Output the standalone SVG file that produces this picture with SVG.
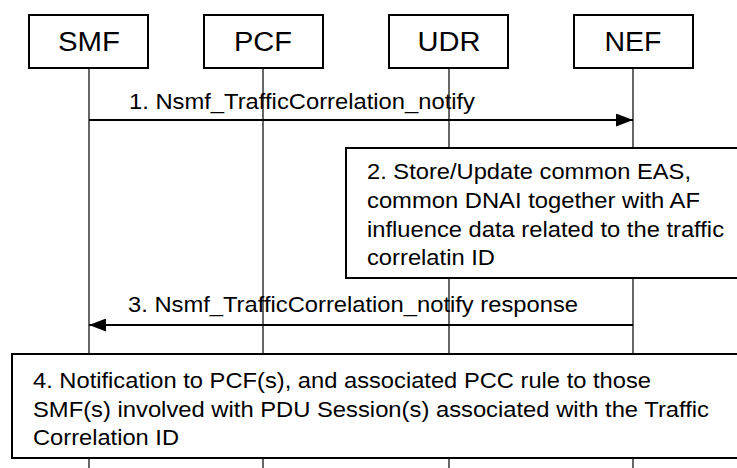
<svg xmlns="http://www.w3.org/2000/svg" width="737" height="468" viewBox="0 0 737 468">
<style>
.box{fill:#fff;stroke:#000;stroke-width:2}
.life{stroke:#000;stroke-width:1.2;fill:none}
.msg{stroke:#000;stroke-width:2;fill:none}
.t{font-family:"Liberation Sans",Arial,sans-serif;fill:#000}
.nl{font-size:27px;text-anchor:middle}
.ml{font-size:22px}
</style>
<defs>
<marker id="ah" viewBox="0 0 17 13" refX="17" refY="6.5" markerWidth="17" markerHeight="13" markerUnits="userSpaceOnUse" orient="auto">
<path d="M0,0 L17,6.5 L0,13 Z" fill="#000"/>
</marker>
</defs>
<g id="lifelines">
<line class="life" x1="89" y1="68" x2="89" y2="468"/>
<line class="life" x1="263" y1="68" x2="263" y2="468"/>
<line class="life" x1="449" y1="68" x2="449" y2="468"/>
<line class="life" x1="633" y1="68" x2="633" y2="468"/>
</g>
<g id="SMF"><rect class="box" x="29" y="15" width="119" height="53"/><text class="t nl" x="89" y="51" textLength="62" lengthAdjust="spacingAndGlyphs">SMF</text></g>
<g id="PCF"><rect class="box" x="204" y="15" width="119" height="53"/><text class="t nl" x="263" y="51" textLength="58" lengthAdjust="spacingAndGlyphs">PCF</text></g>
<g id="UDR"><rect class="box" x="389" y="15" width="119" height="53"/><text class="t nl" x="449" y="51" textLength="63" lengthAdjust="spacingAndGlyphs">UDR</text></g>
<g id="NEF"><rect class="box" x="574" y="15" width="119" height="53"/><text class="t nl" x="633" y="51" textLength="57" lengthAdjust="spacingAndGlyphs">NEF</text></g>
<g id="connectors">
<line class="msg" x1="89" y1="120" x2="633" y2="120" marker-end="url(#ah)"/>
<text class="t ml" x="129" y="109" textLength="346" lengthAdjust="spacingAndGlyphs">1. Nsmf_TrafficCorrelation_notify</text>
<line class="msg" x1="633" y1="325" x2="89" y2="325" marker-end="url(#ah)"/>
<text class="t ml" x="128" y="312" textLength="450" lengthAdjust="spacingAndGlyphs">3. Nsmf_TrafficCorrelation_notify response</text>
</g>
<g id="step2">
<rect class="box" x="346" y="148" width="400" height="130"/>
<text class="t ml" x="367" y="179" textLength="324" lengthAdjust="spacingAndGlyphs">2. Store/Update common EAS,</text>
<text class="t ml" x="367" y="208" textLength="333" lengthAdjust="spacingAndGlyphs">common DNAI together with AF</text>
<text class="t ml" x="367" y="237" textLength="357" lengthAdjust="spacingAndGlyphs">influence data related to the traffic</text>
<text class="t ml" x="367" y="265" textLength="128" lengthAdjust="spacingAndGlyphs">correlatin ID</text>
</g>
<g id="step4">
<rect class="box" x="12" y="354" width="740" height="104"/>
<text class="t ml" x="33" y="388" textLength="618" lengthAdjust="spacingAndGlyphs">4. Notification to PCF(s), and associated PCC rule to those</text>
<text class="t ml" x="33" y="416.5" textLength="676" lengthAdjust="spacingAndGlyphs">SMF(s) involved with PDU Session(s) associated with the Traffic</text>
<text class="t ml" x="33" y="445" textLength="146" lengthAdjust="spacingAndGlyphs">Correlation ID</text>
</g>
</svg>
